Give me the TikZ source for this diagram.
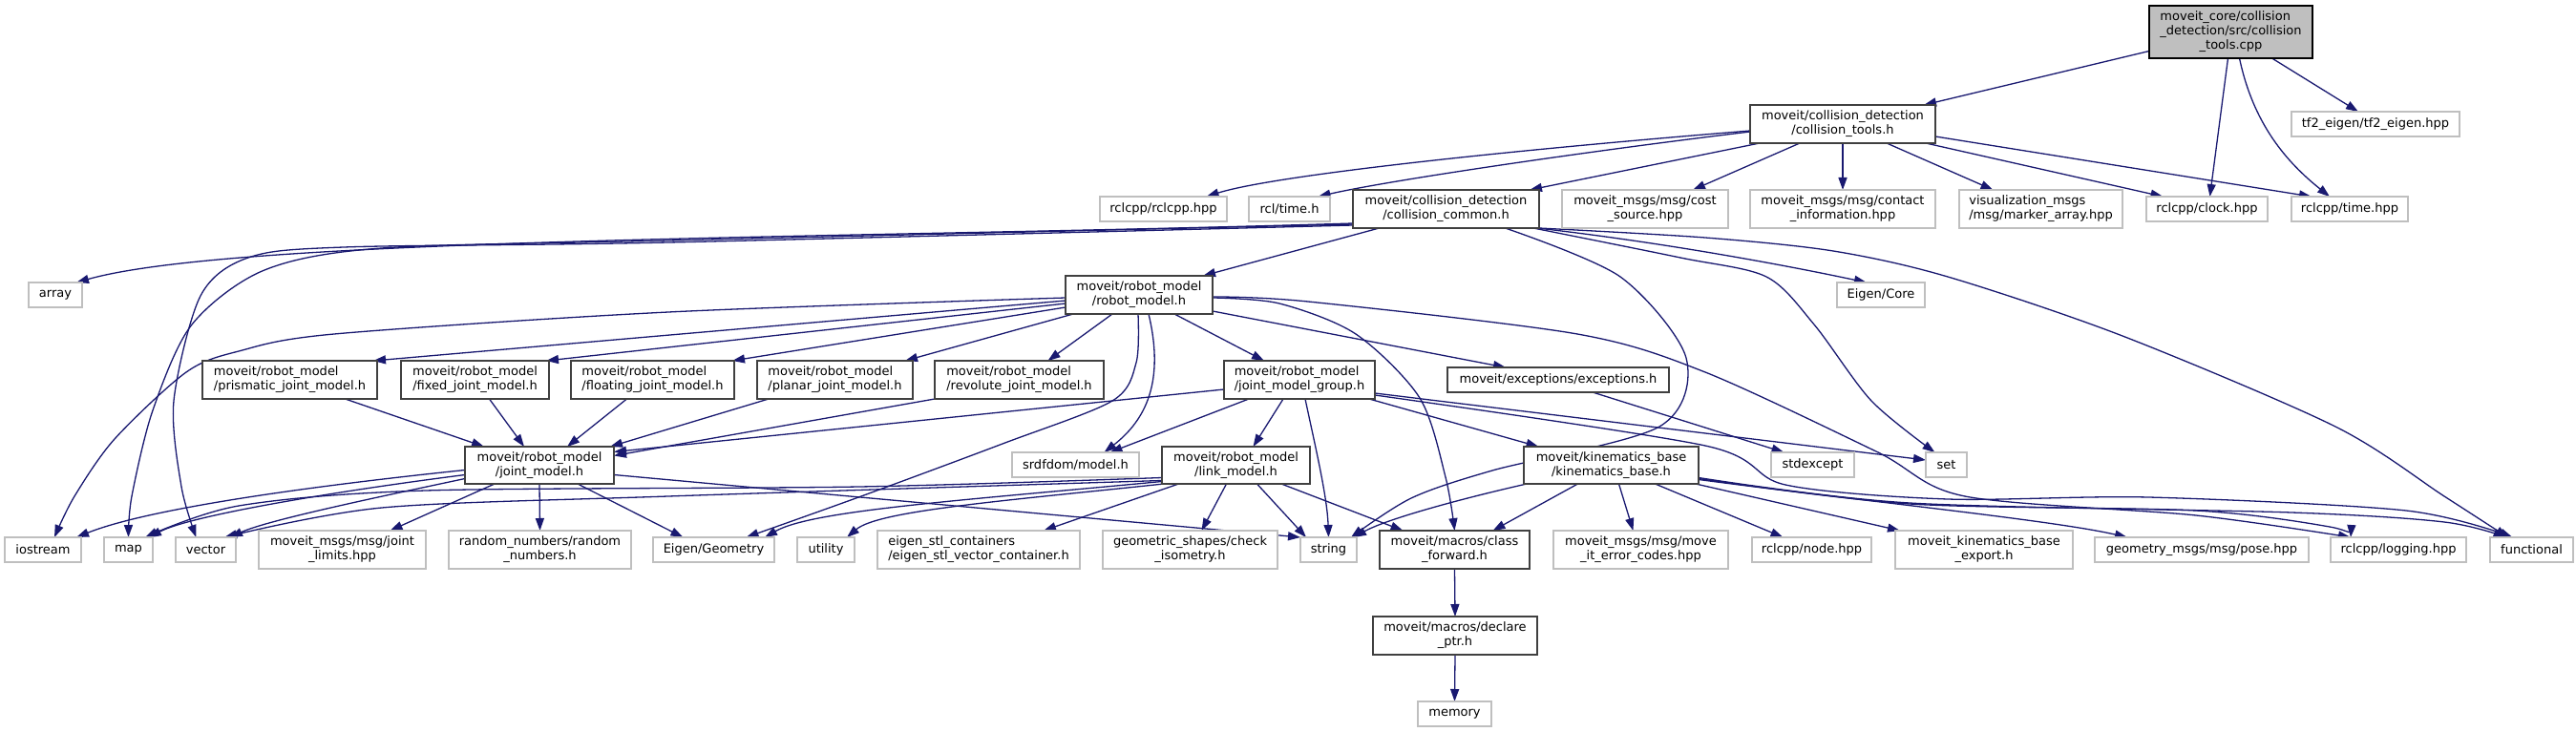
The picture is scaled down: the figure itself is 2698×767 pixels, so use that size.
\documentclass[tikz,border=0pt]{standalone}
\usepackage{fontspec}
\setmainfont{DejaVu Sans}
\usetikzlibrary{arrows.meta,calc}
\definecolor{edgec}{HTML}{191970}
\definecolor{docb}{HTML}{404040}
\definecolor{extb}{HTML}{BFBFBF}
\definecolor{rootf}{HTML}{BFBFBF}
\pgfdeclarelayer{bg}
\pgfsetlayers{bg,main}
\newcommand\twol[2]{\begin{tabular}{@{}l@{}}#1\\\multicolumn{1}{@{}c@{}}{#2}\end{tabular}}
\newcommand\threel[3]{\begin{tabular}{@{}l@{}}#1\\#2\\\multicolumn{1}{@{}c@{}}{#3}\end{tabular}}
\newcommand\gn[7]{\pgfmathsetmacro\gnw{#4-#3}\pgfmathsetmacro\gnh{#6-#5}\pgfmathsetmacro\gnx{(#3+#4)/2}\pgfmathsetmacro\gny{(#5+#6)/2}\node[#1, minimum width=\gnw pt, minimum height=\gnh pt] (#2) at (\gnx,\gny) {#7};}
\begin{document}
\begin{tikzpicture}[x=1pt,y=-1pt,
  box/.style={rectangle, inner sep=0pt, outer sep=0pt, line width=1.3pt, fill=white, font=\fontsize{13pt}{15pt}\selectfont},
  doc/.style={box, draw=docb},
  ext/.style={box, draw=extb},
  rootn/.style={box, draw=black, fill=rootf},
  lnk/.style={draw=edgec, line width=1.3pt, -{Triangle[length=13pt,width=9pt]}}]
\useasboundingbox (0,0) rectangle (2698,767);
\gn{rootn}{root}{2251}{2422}{6}{61}{\threel{moveit\_core/collision}{\_detection/src/collision}{\_tools.cpp}}
\gn{doc}{ctools}{1833}{2027}{110}{150}{\twol{moveit/collision\_detection}{/collision\_tools.h}}
\gn{ext}{tf2}{2400}{2576}{117}{143}{tf2\_eigen/tf2\_eigen.hpp}
\gn{ext}{rclcpp}{1152}{1285}{206}{232}{rclcpp/rclcpp.hpp}
\gn{ext}{rcltime}{1308}{1393}{206}{232}{rcl/time.h}
\gn{doc}{ccommon}{1417}{1612}{199}{239}{\twol{moveit/collision\_detection}{/collision\_common.h}}
\gn{ext}{cost}{1636}{1810}{199}{239}{\twol{moveit\_msgs/msg/cost}{\_source.hpp}}
\gn{ext}{contact}{1833}{2027}{199}{239}{\twol{moveit\_msgs/msg/contact}{\_information.hpp}}
\gn{ext}{marker}{2052}{2223}{199}{239}{\twol{visualization\_msgs}{/msg/marker\_array.hpp}}
\gn{ext}{clock}{2248}{2375}{206}{232}{rclcpp/clock.hpp}
\gn{ext}{rtime}{2400}{2522}{206}{232}{rclcpp/time.hpp}
\gn{ext}{array}{30}{86}{296}{322}{array}
\gn{doc}{robotmodel}{1116}{1270}{289}{329}{\twol{moveit/robot\_model}{/robot\_model.h}}
\gn{ext}{eigencore}{1924}{2016}{296}{322}{Eigen/Core}
\gn{doc}{prismatic}{212}{395}{378}{418}{\twol{moveit/robot\_model}{/prismatic\_joint\_model.h}}
\gn{doc}{fixed}{420}{575}{378}{418}{\twol{moveit/robot\_model}{/fixed\_joint\_model.h}}
\gn{doc}{floating}{598}{769}{378}{418}{\twol{moveit/robot\_model}{/floating\_joint\_model.h}}
\gn{doc}{planar}{793}{956}{378}{418}{\twol{moveit/robot\_model}{/planar\_joint\_model.h}}
\gn{doc}{revolute}{979}{1156}{378}{418}{\twol{moveit/robot\_model}{/revolute\_joint\_model.h}}
\gn{doc}{jmg}{1282}{1440}{378}{418}{\twol{moveit/robot\_model}{/joint\_model\_group.h}}
\gn{doc}{exceptions}{1516}{1748}{385}{411}{moveit/exceptions/exceptions.h}
\gn{doc}{jointmodel}{487}{643}{468}{507}{\twol{moveit/robot\_model}{/joint\_model.h}}
\gn{ext}{srdf}{1060}{1193}{474}{500}{srdfdom/model.h}
\gn{doc}{linkmodel}{1217}{1372}{468}{507}{\twol{moveit/robot\_model}{/link\_model.h}}
\gn{doc}{kinbase}{1596}{1779}{468}{507}{\twol{moveit/kinematics\_base}{/kinematics\_base.h}}
\gn{ext}{stdexcept}{1855}{1942}{474}{500}{stdexcept}
\gn{ext}{set}{2017}{2060}{474}{500}{set}
\gn{ext}{iostream}{5}{85}{563}{589}{iostream}
\gn{ext}{map}{109}{160}{563}{589}{map}
\gn{ext}{vector}{184}{247}{563}{589}{vector}
\gn{ext}{jlimits}{271}{446}{556}{596}{\twol{moveit\_msgs/msg/joint}{\_limits.hpp}}
\gn{ext}{random}{470}{661}{556}{596}{\twol{random\_numbers/random}{\_numbers.h}}
\gn{ext}{egeom}{684}{811}{563}{589}{Eigen/Geometry}
\gn{ext}{utility}{835}{895}{563}{589}{utility}
\gn{ext}{eigenstl}{919}{1131}{556}{596}{\twol{eigen\_stl\_containers}{/eigen\_stl\_vector\_container.h}}
\gn{ext}{geomshapes}{1155}{1338}{556}{596}{\twol{geometric\_shapes/check}{\_isometry.h}}
\gn{ext}{string}{1362}{1421}{563}{589}{string}
\gn{doc}{classfwd}{1445}{1602}{556}{596}{\twol{moveit/macros/class}{\_forward.h}}
\gn{ext}{errcodes}{1627}{1810}{556}{596}{\twol{moveit\_msgs/msg/move}{\_it\_error\_codes.hpp}}
\gn{ext}{rnode}{1835}{1960}{563}{589}{rclcpp/node.hpp}
\gn{ext}{export}{1985}{2171}{556}{596}{\twol{moveit\_kinematics\_base}{\_export.h}}
\gn{ext}{pose}{2194}{2418}{563}{589}{geometry\_msgs/msg/pose.hpp}
\gn{ext}{logging}{2441}{2583}{563}{589}{rclcpp/logging.hpp}
\gn{ext}{functional}{2608}{2695}{563}{589}{functional}
\gn{doc}{declptr}{1438}{1610}{646}{686}{\twol{moveit/macros/declare}{\_ptr.h}}
\gn{ext}{memory}{1485}{1562}{735}{761}{memory}
\begin{pgfonlayer}{bg}
% root
\draw[lnk] ([yshift=-20pt]root.west) -- ([xshift=-12pt]ctools.north east);
\draw[lnk] ([xshift=-3pt]root.south) -- ([xshift=3pt]clock.north);
\draw[lnk] ([xshift=9pt]root.south) .. controls (2360,130) and (2395,170) .. ([xshift=-21pt]rtime.north);
\draw[lnk] ([xshift=43pt]root.south) -- ([xshift=-18pt]tf2.north);
% collision_tools.h
\draw[lnk] ([yshift=-7pt]ctools.west) .. controls (1550,160) and (1330,185) .. ([xshift=45pt]rclcpp.north);
\draw[lnk] ([yshift=-8pt]ctools.west) .. controls (1650,160) and (1450,190) .. ([xshift=30pt]rcltime.north);
\draw[lnk] ([xshift=-87pt]ctools.south) -- ([xshift=-10pt]ccommon.north east);
\draw[lnk] ([xshift=-45pt]ctools.south) -- ([xshift=50pt]cost.north);
\draw[lnk] (ctools.south) -- (contact.north);
\draw[lnk] ([xshift=46pt]ctools.south) -- ([xshift=-50pt]marker.north);
\draw[lnk] ([xshift=-10pt]ctools.south east) -- ([xshift=-46pt]clock.north);
\draw[lnk] ([yshift=-13pt]ctools.east) -- ([xshift=-40pt]rtime.north);
% collision_common.h
\draw[lnk] ([yshift=-15pt]ccommon.west) .. controls (900,250) and (250,248) .. ([xshift=-6pt]array.north east);
\draw[lnk] plot[smooth] coordinates {([yshift=-16pt]ccommon.west) (700,252) (400,260) (277,283) (201,340) (160,430) (138,520) (map.north)};
\draw[lnk] plot[smooth] coordinates {([yshift=-17pt]ccommon.west) (700,254) (360,259) (260,270) (210,310) (182,420) (190,510) ([xshift=-10pt]vector.north)};
\draw[lnk] ([xshift=-70pt]ccommon.south) -- ([xshift=-10pt]robotmodel.north east);
\draw[lnk] plot[smooth] coordinates {([xshift=62pt]ccommon.south) (1697,290) (1766,375) (1738,447) (1563,493) (1478,522) ([xshift=-6pt]string.north east)};
\draw[lnk] ([xshift=-2pt]ccommon.south east) .. controls (1750,255) and (1880,280) .. ([xshift=-15pt]eigencore.north);
\draw[lnk] plot[smooth] coordinates {([xshift=-6pt]ccommon.south east) (1760,270) (1850,290) (1900,340) (1960,420) ([xshift=-12pt]set.north)};
\draw[lnk] plot[smooth] coordinates {(ccommon.south east) (1786,249) (1920,263) (2040,290) (2223,352) (2446,447) (2560,520) ([xshift=-25pt]functional.north)};
% robot_model.h
\draw[lnk] plot[smooth] coordinates {([yshift=-3pt]robotmodel.west) (700,327) (350,350) (250,368) (195,390) (120,460) (78,520) ([xshift=12pt]iostream.north)};
\draw[lnk] ([yshift=-6pt]robotmodel.west) -- ([xshift=-4pt]prismatic.north east);
\draw[lnk] ([yshift=-9pt]robotmodel.west) -- ([xshift=-3pt]fixed.north east);
\draw[lnk] ([yshift=-13pt]robotmodel.west) -- ([xshift=-2pt]floating.north east);
\draw[lnk] ([xshift=8pt]robotmodel.south west) -- ([xshift=-8pt]planar.north east);
\draw[lnk] ([xshift=-28pt]robotmodel.south) -- ([xshift=30pt]revolute.north);
\draw[lnk] ([xshift=37pt]robotmodel.south) -- ([xshift=-37pt]jmg.north);
\draw[lnk] ([xshift=10pt]robotmodel.south) .. controls (1220,400) and (1200,440) .. ([xshift=30pt]srdf.north);
\draw[lnk] plot[smooth] coordinates {([xshift=-1pt]robotmodel.south) (1190,380) (1165,420) (1050,465) (902,520) ([xshift=34pt]egeom.north)};
\draw[lnk] ([yshift=-17pt]robotmodel.east) -- ([xshift=-55pt]exceptions.north);
\draw[lnk] plot[smooth] coordinates {([yshift=-3pt]robotmodel.east) (1340,318) (1420,350) (1487,417) (1514,500) (classfwd.north)};
\draw[lnk] plot[smooth] coordinates {([yshift=-2pt]robotmodel.east) (1370,316) (1652,350) (1786,390) (1965,473) (2058,520) (2300,540) ([xshift=-50pt]logging.north)};
% joint_model_group.h
\draw[lnk] ([yshift=-10pt]jmg.west) -- ([yshift=14pt]jointmodel.east);
\draw[lnk] ([xshift=-53pt]jmg.south) -- ([xshift=36pt]srdf.north);
\draw[lnk] ([xshift=-17pt]jmg.south) -- ([xshift=18pt]linkmodel.north);
\draw[lnk] ([xshift=6pt]jmg.south) .. controls (1378,470) and (1390,520) .. (string.north);
\draw[lnk] ([xshift=-6pt]jmg.south east) -- ([xshift=-76pt]kinbase.north);
\draw[lnk] ([yshift=-14pt]jmg.east) -- ([yshift=5pt]set.west);
\draw[lnk] plot[smooth] coordinates {([yshift=-16pt]jmg.east) (1786,467) (1870,508) (2040,523) (2250,521) (2520,535) ([xshift=-20pt]functional.north)};
% joint_model.h
\draw[lnk] ([yshift=-5pt]jointmodel.west) .. controls (300,512) and (150,535) .. ([xshift=-5pt]iostream.north east);
\draw[lnk] ([yshift=-10pt]jointmodel.west) .. controls (350,515) and (200,540) .. ([xshift=-4pt]map.north east);
\draw[lnk] ([yshift=-14pt]jointmodel.west) .. controls (400,520) and (280,545) .. ([xshift=-6pt]vector.north east);
\draw[lnk] ([xshift=-47pt]jointmodel.south) -- ([xshift=50pt]jlimits.north);
\draw[lnk] (jointmodel.south) -- (random.north);
\draw[lnk] ([xshift=40pt]jointmodel.south) -- ([xshift=-32pt]egeom.north);
\draw[lnk] ([yshift=-10pt]jointmodel.east) -- (string.north west);
% link_model.h
\draw[lnk] plot[smooth] coordinates {([yshift=-13pt]linkmodel.west) (900,510) (446,514) (250,530) ([xshift=-8pt]map.north east)};
\draw[lnk] plot[smooth] coordinates {([yshift=-16pt]linkmodel.west) (700,520) (400,532) ([xshift=-12pt]vector.north east)};
\draw[lnk] ([yshift=-17pt]linkmodel.west) .. controls (1000,525) and (850,535) .. ([xshift=-10pt]egeom.north east);
\draw[lnk] ([xshift=2pt]linkmodel.south west) .. controls (1050,525) and (920,535) .. ([xshift=-8pt]utility.north east);
\draw[lnk] ([xshift=-60pt]linkmodel.south) -- ([xshift=68pt]eigenstl.north);
\draw[lnk] ([xshift=-10pt]linkmodel.south) -- ([xshift=12pt]geomshapes.north);
\draw[lnk] ([xshift=22pt]linkmodel.south) -- ([xshift=6pt]string.north west);
\draw[lnk] ([xshift=-30pt]linkmodel.south east) -- ([xshift=-54pt]classfwd.north);
% kinematics_base.h
\draw[lnk] ([xshift=3pt]kinbase.south west) .. controls (1520,525) and (1450,545) .. ([xshift=-3pt]string.north east);
\draw[lnk] ([xshift=-35pt]kinbase.south) -- ([xshift=40pt]classfwd.north);
\draw[lnk] ([xshift=8pt]kinbase.south) -- ([xshift=-8pt]errcodes.north);
\draw[lnk] ([xshift=46pt]kinbase.south) -- ([xshift=-30pt]rnode.north);
\draw[lnk] ([xshift=-3pt]kinbase.south east) -- ([xshift=-88pt]export.north);
\draw[lnk] ([yshift=-15pt]kinbase.east) .. controls (1950,525) and (2150,545) .. ([xshift=-78pt]pose.north);
\draw[lnk] plot[smooth] coordinates {([yshift=-14pt]kinbase.east) (2000,528) (2300,535) (2440,552) ([xshift=-50pt]logging.north)};
\draw[lnk] plot[smooth] coordinates {([yshift=-13pt]kinbase.east) (2000,527) (2400,537) (2560,547) ([xshift=-27pt]functional.north)};
% others
\draw[lnk] ([xshift=36pt]exceptions.south) -- ([xshift=-30pt]stdexcept.north);
\draw[lnk] ([xshift=58pt]prismatic.south) -- ([xshift=-58pt]jointmodel.north);
\draw[lnk] ([xshift=15pt]fixed.south) -- ([xshift=-16pt]jointmodel.north);
\draw[lnk] ([xshift=-27pt]floating.south) -- ([xshift=29pt]jointmodel.north);
\draw[lnk] ([xshift=12pt]planar.south west) -- ([xshift=-4pt]jointmodel.north east);
\draw[lnk] (revolute.south west) -- ([yshift=10pt]jointmodel.east);
\draw[lnk] (classfwd.south) -- (declptr.north);
\draw[lnk] (declptr.south) -- (memory.north);
\end{pgfonlayer}
\end{tikzpicture}
\end{document}
